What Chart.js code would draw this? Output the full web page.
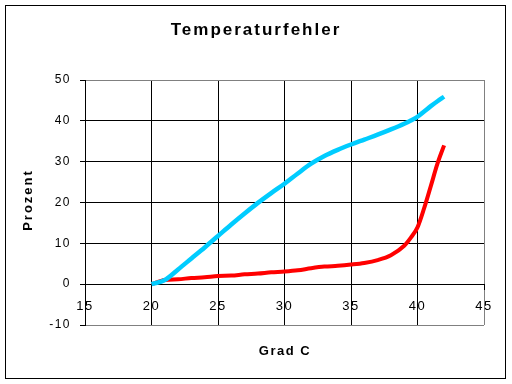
<!DOCTYPE html>
<html><head><meta charset="utf-8">
<script src="https://cdn.jsdelivr.net/npm/chart.js@4/dist/chart.umd.min.js"></script>
<style>html,body{margin:0;padding:0;background:#fff}canvas{display:block}</style>
</head><body>
<canvas id="c" width="512" height="384"></canvas>
<script>
const titleText = 'Temperaturfehler';
const xTitle = 'Grad C';
const yTitle = 'Prozent';
const temps      = [20, 21, 22, 23, 24, 25, 26, 27, 28, 29, 30, 31, 32, 33, 34, 35, 36, 37, 38, 39, 39.5, 40, 40.5, 41, 41.5, 42];
const blueSeries = [0, 1.0, 3.6, 6.3, 9.0, 11.8, 14.6, 17.3, 19.9, 22.3, 24.6, 27.1, 29.5, 31.4, 32.9, 34.2, 35.4, 36.6, 37.9, 39.3, 40.1, 41.0, 42.3, 43.6, 44.8, 45.9];
const redSeries  = [0, 1.0, 1.2, 1.5, 1.7, 2.0, 2.1, 2.4, 2.6, 2.9, 3.1, 3.4, 3.9, 4.3, 4.5, 4.8, 5.2, 5.9, 7.1, 9.4, 11.4, 13.9, 18.6, 24.0, 29.5, 34.0];
const xTicks = [15, 20, 25, 30, 35, 40, 45];
const yTicks = [-10, 0, 10, 20, 30, 40, 50];

const FONT = "'Liberation Sans', Arial, sans-serif";
const GRAY = '#808080';

const decor = {
  id: 'decor',
  beforeDraw(chart) {
    const c = chart.ctx;
    c.save();
    c.fillStyle = '#fff';
    c.fillRect(0, 0, chart.width, chart.height);
    c.restore();
    c.letterSpacing = '1.5px';
  },
  afterDraw(chart) {
    const c = chart.ctx;
    c.save();
    c.strokeStyle = '#000';
    c.lineWidth = 1;
    c.strokeRect(5.5, 5.5, 500, 373);
    c.fillStyle = '#000';
    c.textAlign = 'center';
    c.textBaseline = 'middle';
    c.letterSpacing = '2px';
    c.font = "bold 17px " + FONT;
    c.fillText(titleText, 256, 30);
    c.letterSpacing = '1.5px';
    c.font = "bold 13px " + FONT;
    c.fillText(xTitle, 285, 351);
    c.translate(28.5, 201);
    c.rotate(-Math.PI / 2);
    c.letterSpacing = '2px';
    c.fillText(yTitle, 1, 0);
    c.restore();
  }
};

new Chart(document.getElementById('c'), {
  type: 'line',
  data: {
    datasets: [
      {
        label: 'A',
        data: temps.map((t, i) => ({ x: t, y: blueSeries[i] })),
        borderColor: '#00CCFF',
        borderWidth: 4.5,
        pointRadius: 0,
        cubicInterpolationMode: 'monotone',
        fill: false
      },
      {
        label: 'B',
        data: temps.map((t, i) => ({ x: t, y: redSeries[i] })),
        borderColor: '#FF0000',
        borderWidth: 4,
        pointRadius: 0,
        cubicInterpolationMode: 'monotone',
        fill: false
      }
    ]
  },
  options: {
    responsive: false,
    animation: false,
    devicePixelRatio: 1,
    layout: { padding: { top: 80, right: 28, bottom: 59, left: 0 } },
    plugins: { legend: { display: false }, tooltip: { enabled: false }, title: { display: false } },
    scales: {
      x: {
        type: 'linear',
        position: { y: 0 },
        min: xTicks[0],
        max: xTicks[xTicks.length - 1],
        afterBuildTicks: s => { s.ticks = xTicks.map(v => ({ value: v })); },
        grid: {
          color: ctx => (ctx.tick && ctx.tick.value === xTicks[xTicks.length - 1]) ? GRAY : '#000',
          tickColor: '#000',
          tickLength: 5,
          lineWidth: 1
        },
        border: { color: '#000', width: 1 },
        ticks: { color: '#000', font: { family: FONT, size: 13 }, padding: 9, maxRotation: 0 }
      },
      y: {
        type: 'linear',
        position: 'left',
        min: yTicks[0],
        max: yTicks[yTicks.length - 1],
        afterBuildTicks: s => { s.ticks = yTicks.map(v => ({ value: v })); },
        afterFit: s => { s.width = 85; },
        grid: {
          color: ctx => (ctx.tick && (ctx.tick.value === yTicks[0] || ctx.tick.value === yTicks[yTicks.length - 1])) ? GRAY : '#000',
          tickColor: '#000',
          tickLength: 5,
          lineWidth: 1
        },
        border: { color: '#000', width: 1 },
        ticks: { color: '#000', font: { family: FONT, size: 12 }, padding: 9 }
      }
    }
  },
  plugins: [decor]
});
</script>
</body></html>
